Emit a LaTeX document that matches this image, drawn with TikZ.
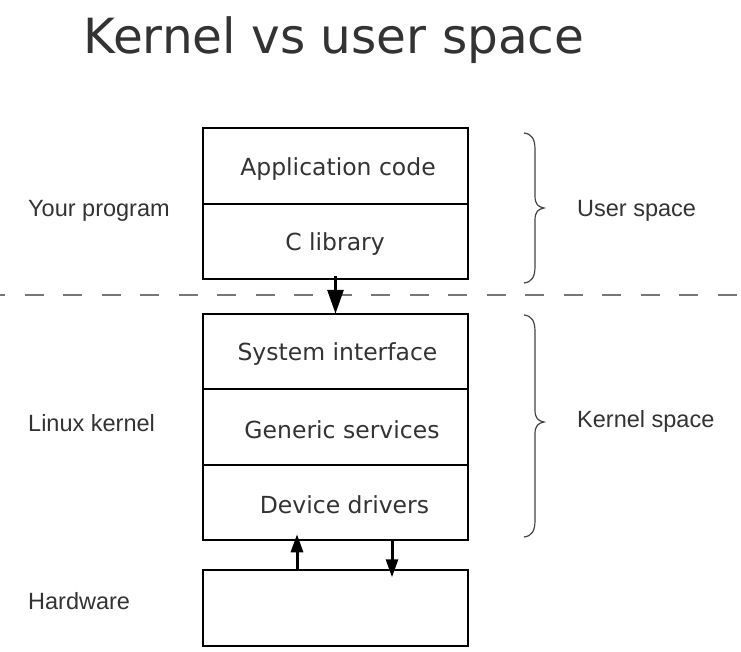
\documentclass[tikz,border=0pt]{standalone}
\usepackage{fontspec}
\setmainfont{DejaVu Sans}
\newfontfamily\arialfont{Liberation Sans}
\usetikzlibrary{arrows.meta}
\definecolor{txt}{HTML}{333333}
\definecolor{dashgray}{HTML}{777777}
\definecolor{bracegray}{HTML}{444444}
\tikzset{
  layer/.style={draw=black, line width=1.8pt, minimum width=265pt, minimum height=75.5pt, inner sep=0pt, outer sep=0pt},
  boxtext/.style={inner sep=0pt, text=txt, font=\fontsize{23.5pt}{28pt}\selectfont},
  sidetext/.style={inner sep=0pt, anchor=base west, text=txt, font=\arialfont\fontsize{23.5pt}{28pt}\selectfont},
  bigarrow/.style={line width=3pt, -{Triangle[length=24pt,width=16pt]}},
  smallarrow/.style={line width=3pt, -{Triangle[length=18pt,width=12pt]}},
  bracestyle/.style={draw=bracegray, line width=1.2pt},
}
\begin{document}
\begin{tikzpicture}[x=1pt,y=-1pt]
\useasboundingbox[fill=white] (0,0) rectangle (741,651);
% title
\node[inner sep=0pt, anchor=base west, text=txt, font=\fontsize{48.5pt}{58pt}\selectfont] (title) at (83.5,53) {Kernel vs user space};
% dashed separator
\draw[dashgray, line width=1.5pt, dash pattern=on 19pt off 19.5pt, dash phase=14pt] (0,295) -- (741,295);
% boxes
\node[layer] (app) at (335.5,166) {};
\node[layer] (clib) at (335.5,241.5) {};
\node[layer] (sys) at (335.5,351.5) {};
\node[layer] (gen) at (335.5,427) {};
\node[layer] (dev) at (335.5,502.5) {};
\node[layer] (hw) at (335.5,608) {};
% box texts
\node[boxtext] (appt) at (338,169) {Application code};
\node[boxtext] (clibt) at (335,244) {C library};
\node[boxtext] (syst) at (337.5,354) {System interface};
\node[boxtext] (gent) at (342,430) {Generic services};
\node[boxtext] (devt) at (344.5,505) {Device drivers};
% side labels
\node[sidetext] (yourprog) at (28,216) {Your program};
\node[sidetext] (linux) at (28,431) {Linux kernel};
\node[sidetext] (hwl) at (28,609) {Hardware};
\node[sidetext] (user) at (577,216) {User space};
\node[sidetext] (kern) at (577,427) {Kernel space};
% arrows
\draw[bigarrow] ([yshift=3pt]clib.south) -- (sys.north);
\draw[smallarrow] ([xshift=-38.5pt]hw.north) -- ([xshift=-38.5pt,yshift=6pt]dev.south);
\draw[smallarrow] ([xshift=56.5pt]dev.south) -- ([xshift=56.5pt,yshift=-7pt]hw.north);
% braces
\draw[bracestyle] (524,133) .. controls (532,134) and (535,139) .. (535,150) -- (535,196)
  .. controls (535,204) and (538,207) .. (544,208)
  .. controls (538,209) and (535,212) .. (535,220) -- (535,266)
  .. controls (535,277) and (532,282) .. (524,283);
\draw[bracestyle] (524,315) .. controls (532,316) and (535,321) .. (535,332) -- (535,410)
  .. controls (535,418) and (538,421) .. (544,422)
  .. controls (538,423) and (535,426) .. (535,434) -- (535,520)
  .. controls (535,531) and (532,536) .. (524,537);
\end{tikzpicture}
\end{document}
